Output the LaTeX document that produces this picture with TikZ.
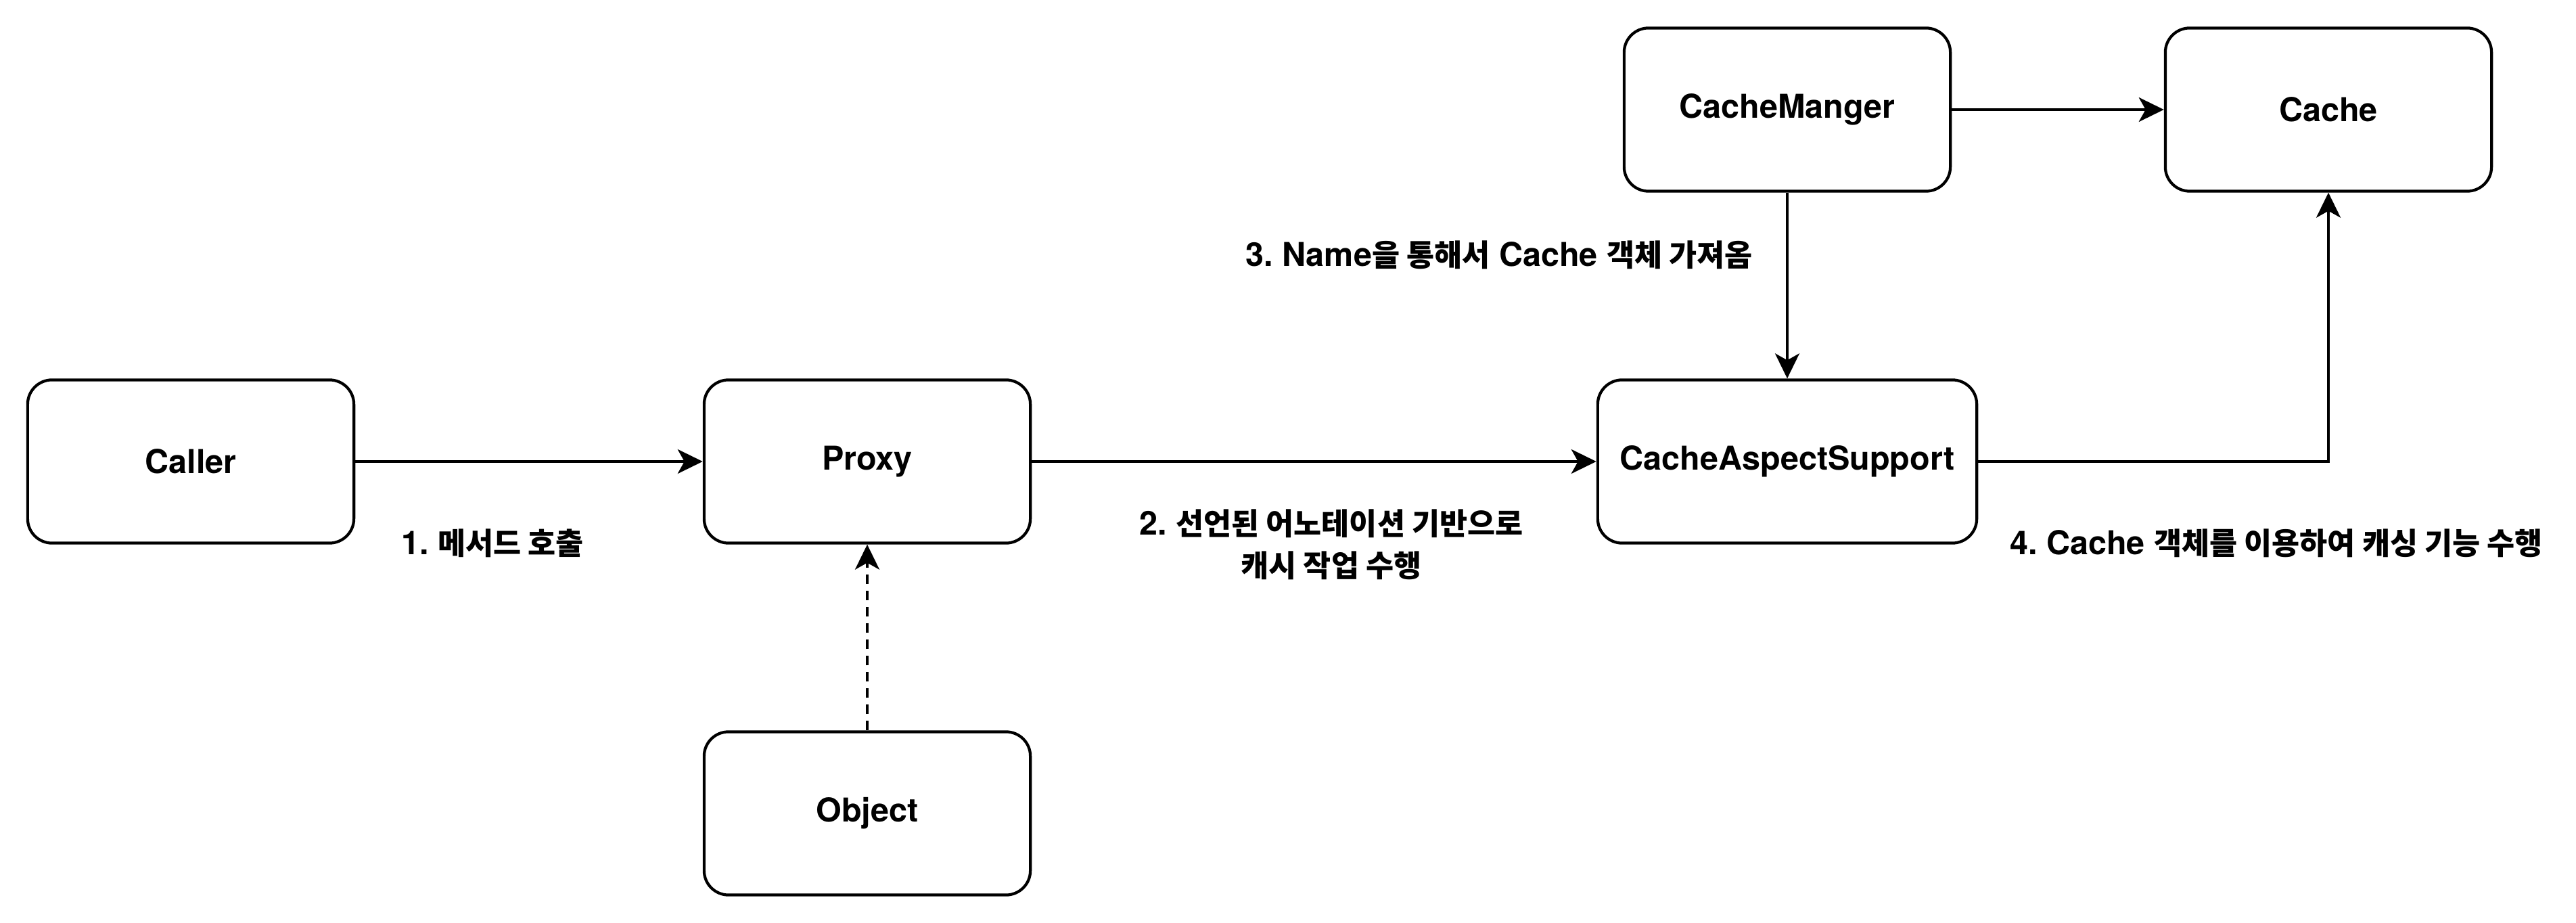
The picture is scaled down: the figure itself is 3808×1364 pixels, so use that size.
\documentclass[tikz,border=0pt]{standalone}
\usepackage{fontspec}
\setmainfont{TeX Gyre Heros}
\newfontfamily\kr{Noto Sans CJK KR}[Scale=0.92, BoldFont={Noto Sans CJK KR Black}]
\usetikzlibrary{arrows.meta}
\frenchspacing
\begin{document}
\begin{tikzpicture}[x=0.01cm,y=-0.01cm,
  box/.style={draw=black, line width=1.2pt, rounded corners=0.36cm, minimum width=4.82cm, minimum height=2.41cm, inner sep=0pt, font=\fontsize{13.8}{17}\selectfont\bfseries},
  lbl/.style={font=\fontsize{13.8}{17.6}\selectfont\bfseries, inner sep=0pt, align=center},
  conn/.style={line width=1pt, -{Stealth[length=0.37cm, width=0.36cm, inset=0.1cm]}}]
\useasboundingbox (0,0) rectangle (3808,1364);
\node[box] (caller) at (282,682) {Caller};
\node[box] (proxy) at (1282,682) {Proxy};
\node[box] (object) at (1282,1202) {Object};
\node[box, minimum width=5.6cm] (cas) at (2642,682) {CacheAspectSupport};
\node[box] (mgr) at (2642,162) {CacheManger};
\node[box] (cache) at (3442,162) {Cache};

\draw[conn] (caller) -- (proxy);
\draw[conn] (proxy) -- (cas);
\draw[conn, dash pattern=on 0.14cm off 0.1cm] (object) -- (proxy);
\draw[conn] (mgr) -- (cache);
\draw[conn] (mgr) -- (cas);
\draw[conn] (cas.east) -| (cache.south);

\node[lbl] (l1) at (728,803) {1. {\kr 메서드 호출}};
\node[lbl] (l2) at (1968,805) {2. {\kr 선언된 어노테이션 기반으로}\\{\kr 캐시 작업 수행}};
\node[lbl] (l3) at (2216,377) {3. Name{\kr 을 통해서} Cache {\kr 객체 가져옴}};
\node[lbl] (l4) at (3365,803) {4. Cache {\kr 객체를 이용하여 캐싱 기능 수행}};
\end{tikzpicture}
\end{document}
